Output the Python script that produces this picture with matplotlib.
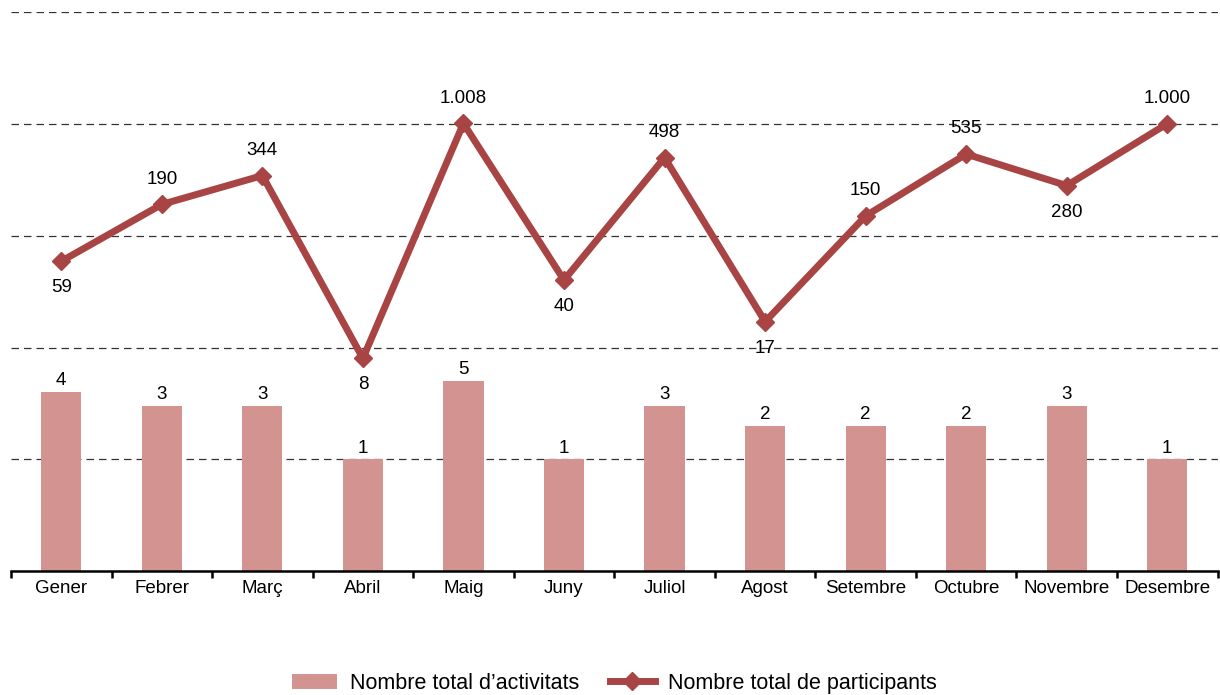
import matplotlib.pyplot as plt
import numpy as np

plt.rcParams['font.family'] = ['Liberation Sans', 'DejaVu Sans']

months = ["Gener", "Febrer", "Març", "Abril", "Maig", "Juny", "Juliol",
          "Agost", "Setembre", "Octubre", "Novembre", "Desembre"]
activitats = [4, 3, 3, 1, 5, 1, 3, 2, 2, 2, 3, 1]
participants = [59, 190, 344, 8, 1008, 40, 498, 17, 150, 535, 280, 1000]
part_labels = ["59", "190", "344", "8", "1.008", "40", "498", "17",
               "150", "535", "280", "1.000"]
label_below = [True, False, False, True, False, True, False, True,
               False, False, True, False]

bar_color = '#d39491'
line_color = '#a84444'
base = 0.1  # bottom of the log axis

fig = plt.figure(figsize=(12.2, 6.95), dpi=100)
ax = fig.add_axes([0.009, 0.178, 0.989, 0.805])

x = np.arange(len(months))
bars = ax.bar(x, [v - base for v in activitats], width=0.4, color=bar_color,
              bottom=base, label="Nombre total d\u2019activitats", zorder=2)
line, = ax.plot(x, participants, color=line_color, lw=5, marker='D', ms=9,
                label="Nombre total de participants", zorder=3)

ax.set_yscale('log')
ax.set_ylim(base, 10000)
ax.set_xlim(-0.5, len(months) - 0.5)

for xi, v in zip(x, activitats):
    ax.annotate(str(v), (xi, v), xytext=(0, 2), textcoords='offset points',
                ha='center', va='bottom', fontsize=13.5)

for xi, v, lab, below in zip(x, participants, part_labels, label_below):
    if below:
        ax.annotate(lab, (xi, v), xytext=(0, -13), textcoords='offset points',
                    ha='center', va='top', fontsize=13.5)
    else:
        ax.annotate(lab, (xi, v), xytext=(0, 12), textcoords='offset points',
                    ha='center', va='bottom', fontsize=13.5)

for g in [1, 10, 100, 1000, 10000]:
    ax.axhline(g, color='#333333', lw=0.9, ls=(0, (6, 4)), zorder=1)

for s in ['left', 'right', 'top']:
    ax.spines[s].set_visible(False)
ax.spines['bottom'].set_linewidth(1.8)

ax.set_yticks([])
ax.set_yticks([], minor=True)
ax.set_xticks(x)
ax.set_xticklabels(months, fontsize=13.5)
ax.set_xticks(np.arange(-0.5, len(months)), minor=True)
ax.tick_params(axis='x', which='major', length=0, pad=6)
ax.tick_params(axis='x', which='minor', length=5, width=1.8, direction='out')

ax.legend([bars, line], [bars.get_label(), line.get_label()],
          loc='center', bbox_to_anchor=(0.5, -0.2), ncol=2,
          frameon=False, fontsize=15.5, handlelength=2.1, columnspacing=1.4,
          handletextpad=0.6)

fig.savefig('out.png', dpi=100)
